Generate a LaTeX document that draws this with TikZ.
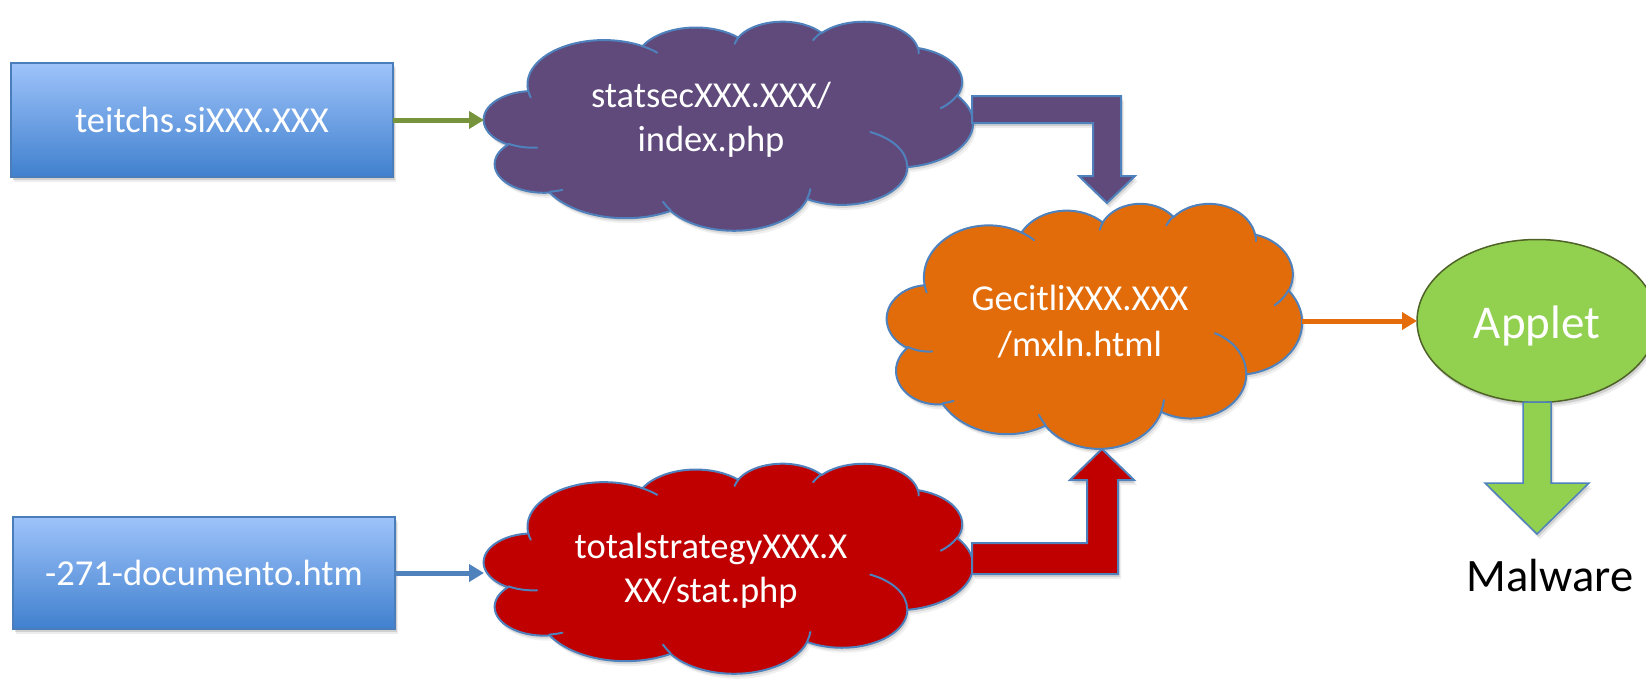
\documentclass[tikz,border=0pt]{standalone}
\usepackage{fontspec}
\setmainfont{Carlito}
\usetikzlibrary{arrows.meta,shapes.geometric,shadows}

\definecolor{boxtop}{RGB}{158,195,250}
\definecolor{boxbot}{RGB}{64,128,206}
\definecolor{boxedge}{RGB}{74,126,187}
\definecolor{edgeblue}{RGB}{79,129,189}
\definecolor{cloudpurple}{RGB}{96,74,123}
\definecolor{cloudorange}{RGB}{227,108,10}
\definecolor{cloudred}{RGB}{192,0,0}
\definecolor{applegreen}{RGB}{146,208,80}
\definecolor{oliveedge}{RGB}{79,98,40}
\definecolor{linkgreen}{RGB}{119,147,60}
\definecolor{linkblue}{RGB}{79,129,189}
\definecolor{linkorange}{RGB}{228,108,10}

% Elliptical arc: x radius, y radius, start angle and sweep measured
% as true angles from the centre (converted to parametric angles).
\newcommand\ooarc[4]{arc[x radius=#1, y radius=#2,
  start angle={atan2((#1)*sin(#3),(#2)*cos(#3))},
  delta angle={mod(atan2((#1)*sin((#3)+(#4)),(#2)*cos((#3)+(#4)))-atan2((#1)*sin(#3),(#2)*cos(#3))+720,360)}]}

% Cloud outline in a 43.2 x 43.2 box (y pointing down)
\newcommand\cloudoutline{(3.900,14.370)
  \ooarc{6.753}{9.190}{-190.48748}{123.78053}
  \ooarc{5.333}{7.267}{-144.10238}{89.94523}
  \ooarc{4.365}{5.945}{-145.80792}{99.72302}
  \ooarc{4.857}{6.595}{-130.98607}{117.24173}
  \ooarc{5.333}{7.273}{-78.70888}{109.02692}
  \ooarc{6.775}{9.220}{-46.26725}{130.26900}
  \ooarc{5.785}{7.867}{0.62502}{114.03333}
  \ooarc{6.752}{9.215}{22.45160}{115.17255}
  \ooarc{7.720}{10.543}{66.24263}{75.71102}
  \ooarc{4.360}{5.918}{-274.94208}{146.73557}
  \ooarc{4.345}{5.945}{-246.82850}{152.51885}
  -- cycle}

% The small inner creases of the cloud
\newcommand\cloudcreases{%
  (4.693,26.177) \ooarc{4.345}{5.945}{86.74200}{26.42950}
  (6.928,34.899) \ooarc{4.360}{5.918}{73.61047}{11.44747}
  (16.478,39.090) \ooarc{6.752}{9.215}{137.62415}{14.08110}
  (28.827,34.751) \ooarc{6.752}{9.215}{6.45327}{15.99835}
  (34.129,22.954) \ooarc{5.785}{7.867}{-70.29235}{70.91737}
  (41.798,15.354) \ooarc{5.333}{7.273}{30.31803}{27.75150}
  (38.324,5.426) \ooarc{4.857}{6.595}{-13.74433}{14.85890}
  (29.078,3.952) \ooarc{4.857}{6.595}{-149.18145}{18.19537}
  (22.141,4.720) \ooarc{4.365}{5.945}{-163.49427}{17.68635}
  (14.000,5.192) \ooarc{6.753}{9.190}{-66.70695}{12.31935}
  (4.127,15.789) \ooarc{6.753}{9.190}{157.65435}{11.85817}}

% \drawcloud{left}{top}{width}{height}{fill colour}
\newcommand\drawcloud[5]{%
  \pgfmathsetmacro\cloudsx{#3/43.2}%
  \pgfmathsetmacro\cloudsy{#4/43.2}%
  \begin{scope}[shift={(#1,#2)}, x=\cloudsx pt, y=-\cloudsy pt]
    \fill[black, opacity=.10, xshift=1.5pt, yshift=-3pt] \cloudoutline;
    \fill[black, opacity=.06, xshift=3pt, yshift=-5pt] \cloudoutline;
    \filldraw[fill=#5, cloudline] \cloudoutline;
    \draw[cloudline, line cap=round] \cloudcreases;
  \end{scope}}

\begin{document}
\begin{tikzpicture}[x=1pt, y=-1pt,
  every node/.style={inner sep=0pt, outer sep=0pt},
  labelfont/.style={font=\fontsize{36.5}{44}\selectfont},
  softshadow/.style={
    drop shadow={shadow xshift=1.5pt, shadow yshift=-3pt, opacity=.12, fill=black},
    drop shadow={shadow xshift=3pt, shadow yshift=-5pt, opacity=.07, fill=black}},
  srcbox/.style={rectangle, minimum width=382pt, minimum height=#1,
    top color=boxtop, bottom color=boxbot, draw=boxedge, line width=1.2pt,
    text=white, labelfont, softshadow},
  cloudline/.style={draw=edgeblue, line width=2pt},
  blockarrow/.style={draw=edgeblue, line width=2pt, line join=miter, softshadow},
  link/.style={line width=5pt, -{Triangle[length=15pt,width=17pt]}},
  cloudtext/.style={text=white, align=center, anchor=base, labelfont}]

\useasboundingbox (0,0) rectangle (1646,680);
\clip (0,0) rectangle (1646,680);

% source pages
\node[srcbox=114pt] (src1) at (202,120) {teitchs.siXXX.XXX};
\node[srcbox=112pt] (src2) at (204,573) {-271-documento.htm};

% areas taken by the three clouds
\node[minimum width=489pt, minimum height=209pt] (statsec) at (728.5,125.5) {};
\node[minimum width=489pt, minimum height=210pt] (totalstrategy) at (728.5,568) {};
\node[minimum width=415pt, minimum height=245pt] (gecitli) at (1094.5,325.5) {};

\drawcloud{484}{21}{489}{209}{cloudpurple}
\drawcloud{484}{463}{489}{210}{cloudred}
\drawcloud{887}{203}{415}{245}{cloudorange}

% bent block arrows into the landing page
\filldraw[blockarrow, fill=cloudpurple] (972,96) -- (1121,96) -- (1121,176) -- (1135,176)
  -- (1107,203) -- (1079,176) -- (1093,176) -- (1093,123) -- (972,123) -- cycle;
\filldraw[blockarrow, fill=cloudred] (972,574) -- (1118,574) -- (1118,480) -- (1134,480)
  -- (1102,449) -- (1070,480) -- (1087,480) -- (1087,543) -- (972,543) -- cycle;

% redirects
\draw[link, linkgreen] (src1.east) -- (src1.east -| statsec.west);
\draw[link, linkblue] (src2.east) -- (src2.east -| totalstrategy.west);

% applet and payload
\node[ellipse, minimum width=240pt, minimum height=163pt, fill=applegreen,
  draw=oliveedge, line width=1.5pt, softshadow] (applet) at (1537,321) {};
\draw[link, linkorange] (applet.west -| gecitli.east) -- (applet.west);
\filldraw[blockarrow, line width=1.5pt, fill=applegreen] (1523,402) -- (1551,402) -- (1551,483)
  -- (1589,483) -- (1537,534) -- (1485,483) -- (1523,483) -- cycle;

% labels (a multi-line node sits on the baseline of its last line)
\node[cloudtext] (statsectext) at (711,151) {statsecXXX.XXX/\\index.php};
\node[cloudtext] (gecitlitext) at (1080,356) {GecitliXXX.XXX\\[2pt]/mxln.html};
\node[cloudtext] (totaltext) at (711,602.5) {totalstrategyXXX.X\\XX/stat.php};
\node[anchor=base, text=white, font=\fontsize{47}{56}\selectfont] (applettext) at (1537,338) {Applet};
\node[anchor=base, font=\fontsize{46.5}{56}\selectfont] (malware) at (1550,591) {Malware};
\end{tikzpicture}
\end{document}
